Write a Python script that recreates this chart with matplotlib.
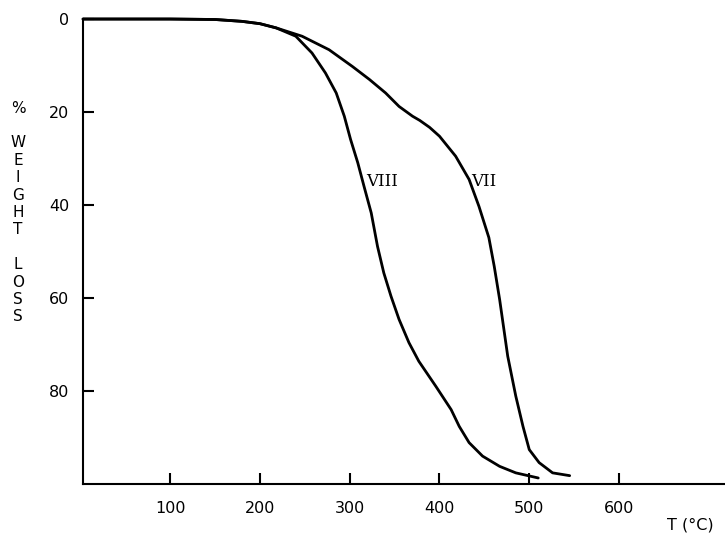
import matplotlib
matplotlib.use("Agg")
import matplotlib.pyplot as plt

# Curve VII (T in °C, % weight loss)
t_vii = [3, 100, 150, 180, 200, 218, 247, 277, 303, 322, 340, 355, 370, 378, 389, 400, 418, 433,
         444, 455, 461, 467, 476, 485, 493, 500, 511, 526, 545]
w_vii = [0, 0, 0.1, 0.5, 1.0, 1.9, 3.7, 6.6, 10.2, 13.0, 15.9, 18.8, 20.9, 21.8, 23.3, 25.2, 29.5, 34.5,
         40.3, 47.0, 53.2, 60.3, 72.5, 81.1, 87.6, 92.6, 95.4, 97.6, 98.2]

# Curve VIII
t_viii = [3, 100, 150, 180, 200, 218, 240, 258, 273, 285, 294, 301, 309, 316, 324, 331, 338, 346,
          355, 366, 377, 396, 413, 422, 433, 448, 467, 485, 510]
w_viii = [0, 0, 0.1, 0.5, 1.0, 1.9, 3.7, 7.3, 11.6, 15.9, 20.9, 25.9, 30.9, 36.0, 41.7, 48.9, 54.6, 59.6,
          64.6, 69.6, 73.6, 79.0, 84.0, 87.6, 91.1, 94.0, 96.2, 97.6, 98.7]

x_ticks = [100, 200, 300, 400, 500, 600]
y_ticks = [0, 20, 40, 60, 80]
curve_labels = ["VII", "VIII"]

fig = plt.figure(figsize=(7.25, 5.39), dpi=100)
ax = fig.add_axes([0.1145, 0.102, 0.8855, 0.8627])

ax.plot(t_vii, w_vii, color="black", lw=2.0, clip_on=False, solid_capstyle="round", solid_joinstyle="round")
ax.plot(t_viii, w_viii, color="black", lw=2.0, clip_on=False, solid_capstyle="round", solid_joinstyle="round")

ax.set_xlim(3, 718)
ax.set_ylim(100, 0)
ax.set_xticks(x_ticks)
ax.set_yticks(y_ticks)
ax.tick_params(direction="in", length=8, width=1.5, labelsize=11.5)
ax.tick_params(axis="x", pad=12)
ax.tick_params(axis="y", pad=10)
for s in ["top", "right"]:
    ax.spines[s].set_visible(False)
for s in ["left", "bottom"]:
    ax.spines[s].set_linewidth(1.5)

ax.text(449, 35, curve_labels[0], ha="center", va="center", fontsize=12, family="DejaVu Serif")
ax.text(336, 35, curve_labels[1], ha="center", va="center", fontsize=12, family="DejaVu Serif")

fig.text(690 / 725, 1 - 525 / 539, "T (°C)", ha="center", va="center", fontsize=11.5)
fig.text(18 / 725, 1 - 212.5 / 539, "%\n\nW\nE\nI\nG\nH\nT\n\nL\nO\nS\nS",
         ha="center", va="center", fontsize=11, linespacing=1.2, multialignment="center")

fig.savefig("out.png", dpi=100)
